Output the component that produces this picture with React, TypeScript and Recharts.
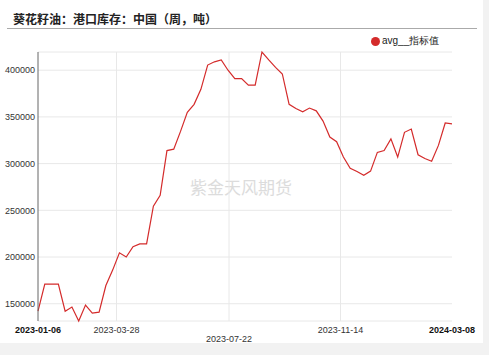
import { LineChart, Line, XAxis, YAxis, CartesianGrid, ReferenceLine } from "recharts";

// weekly dates (Fridays)
const dates: string[] = [
  "2023-01-06", "2023-01-13", "2023-01-20", "2023-01-27",
  "2023-02-03", "2023-02-10", "2023-02-17", "2023-02-24",
  "2023-03-03", "2023-03-10", "2023-03-17", "2023-03-24", "2023-03-31",
  "2023-04-07", "2023-04-14", "2023-04-21", "2023-04-28",
  "2023-05-05", "2023-05-12", "2023-05-19", "2023-05-26",
  "2023-06-02", "2023-06-09", "2023-06-16", "2023-06-23", "2023-06-30",
  "2023-07-07", "2023-07-14", "2023-07-21", "2023-07-28",
  "2023-08-04", "2023-08-11", "2023-08-18", "2023-08-25",
  "2023-09-01", "2023-09-08", "2023-09-15", "2023-09-22", "2023-09-29",
  "2023-10-06", "2023-10-13", "2023-10-20", "2023-10-27",
  "2023-11-03", "2023-11-10", "2023-11-17", "2023-11-24",
  "2023-12-01", "2023-12-08", "2023-12-15", "2023-12-22", "2023-12-29",
  "2024-01-05", "2024-01-12", "2024-01-19", "2024-01-26",
  "2024-02-02", "2024-02-09", "2024-02-16", "2024-02-23",
  "2024-03-01", "2024-03-08",
];

// avg__指标值 (tonnes)
const avgValues: number[] = [
  142000, 171000, 171000, 171000, 142000, 146500, 131500, 148500,
  140000, 141000, 169500, 186000, 204500, 200000, 211000, 214000,
  214000, 254500, 266000, 314000, 315500, 334500, 355000, 363500,
  379500, 405500, 409000, 411000, 400000, 391000, 391000, 384000,
  384000, 419500, 411000, 403000, 396000, 363500, 359000, 355500,
  359500, 356500, 345500, 328500, 323500, 307000, 295000, 291500,
  287500, 292000, 312000, 314000, 326500, 307000, 333500, 337000,
  309500, 305500, 302500, 319500, 343500, 342500,
];

const xTickLabels: string[] = ["2023-01-06", "2023-03-28", "2023-07-22", "2023-11-14", "2024-03-08"];
const yTicks: number[] = [150000, 200000, 250000, 300000, 350000, 400000];

const data = dates.map((d, i) => ({ t: Date.parse(d), avg: avgValues[i] }));
const xTicks = xTickLabels.map((s) => Date.parse(s));
const gridXTicks = xTicks.slice(1, -1);

const RED = "#d42b2b";
const FONT = "'Liberation Sans', Arial, sans-serif";

function XTick(props: any) {
  const { x, y, index } = props;
  const edge = index === 0 || index === xTickLabels.length - 1;
  const dy = index === 2 ? 13 : 4;
  return (
    <text
      x={x}
      y={y + dy}
      textAnchor="middle"
      fontSize={9}
      fontFamily={FONT}
      fontWeight={edge ? "bold" : "normal"}
      fill={edge ? "#111" : "#333"}
    >
      {xTickLabels[index]}
    </text>
  );
}

export default function App() {
  return (
    <div style={{ position: "fixed", left: 0, top: 0, width: 489, height: 355, background: "#f2f2f2" }}>
      <div style={{ position: "absolute", left: 0, top: 0, width: 483, height: 343, background: "#fff" }} />
      <div
        style={{
          position: "absolute",
          left: 13,
          top: 10,
          fontSize: 12,
          fontWeight: "bold",
          fontFamily: "'Noto Sans CJK SC', sans-serif",
          color: "#222",
          whiteSpace: "nowrap",
        }}
      >
        葵花籽油：港口库存：中国（周，吨）
      </div>
      <div style={{ position: "absolute", left: 7, top: 28, width: 470, height: 1, background: "#aaa" }} />
      <div
        style={{
          position: "absolute",
          left: 190,
          top: 174,
          fontSize: 17,
          fontFamily: "'Noto Sans CJK SC', sans-serif",
          color: "#dcdcdc",
          whiteSpace: "nowrap",
        }}
      >
        紫金天风期货
      </div>
      {/* legend */}
      <div
        style={{
          position: "absolute",
          left: 371,
          top: 34,
          display: "flex",
          alignItems: "center",
          fontFamily: FONT,
          fontSize: 10,
          color: "#222",
          whiteSpace: "nowrap",
        }}
      >
        <span style={{ width: 9, height: 9, borderRadius: "50%", background: RED, display: "inline-block", marginRight: 2 }} />
        <span>avg__指标值</span>
      </div>
      <div style={{ position: "absolute", left: 0, top: 0 }}>
        <LineChart width={489} height={355} data={data} margin={{ top: 52, right: 37, bottom: 4, left: 0 }}>
          <CartesianGrid stroke="#e8e8e8" strokeWidth={1} vertical={false} />
          <XAxis
            dataKey="t"
            type="number"
            scale="time"
            domain={["dataMin", "dataMax"]}
            ticks={xTicks}
            interval={0}
            axisLine={false}
            tickLine={false}
            height={30}
            tick={<XTick />}
          />
          <YAxis
            domain={["dataMin", "dataMax"]}
            ticks={yTicks}
            interval={0}
            width={38}
            tickSize={0}
            tickMargin={3}
            axisLine={{ stroke: "#666" }}
            tickLine={false}
            tick={{ fontSize: 9, fill: "#333", fontFamily: FONT }}
          />
          {gridXTicks.map((t) => (
            <ReferenceLine key={t} x={t} stroke="#e8e8e8" strokeWidth={1} />
          ))}
          <Line
            type="linear"
            dataKey="avg"
            name="avg__指标值"
            stroke={RED}
            strokeWidth={1.2}
            dot={false}
            isAnimationActive={false}
          />
        </LineChart>
      </div>
    </div>
  );
}
